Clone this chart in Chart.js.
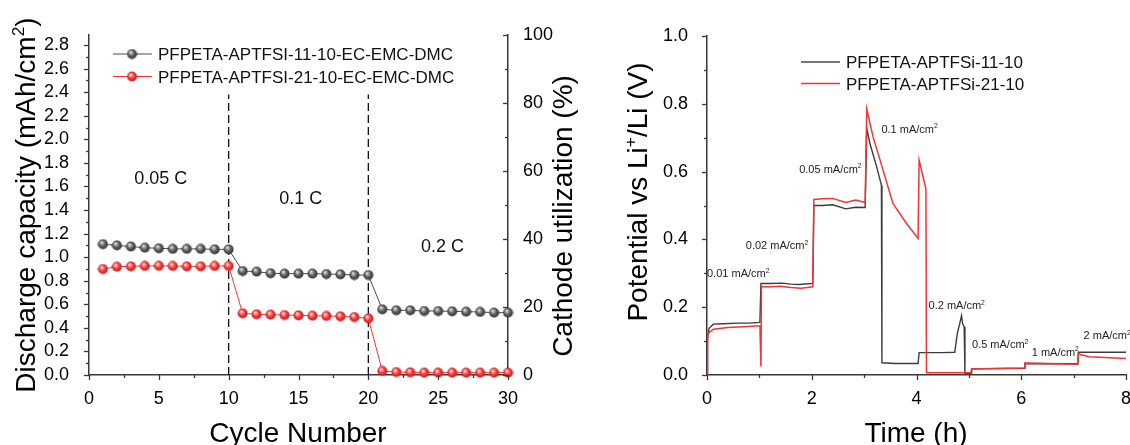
<!DOCTYPE html>
<html>
<head>
<meta charset="utf-8">
<title>Discharge capacity and potential</title>
<script src="https://cdn.jsdelivr.net/npm/chart.js@4.4.1/dist/chart.umd.min.js"></script>
<style>
  body { margin: 0; background: #fff; width: 1130px; height: 445px; position: relative; overflow: hidden; }
  canvas { position: absolute; top: 0; }
  #capChart { left: 0; }
  #potChart { left: 600px; }
</style>
</head>
<body>
<canvas id="capChart" width="600" height="445"></canvas>
<canvas id="potChart" width="530" height="445"></canvas>
<script>
// Left panel data (cycle test)
const cycles = [1, 2, 3, 4, 5, 6, 7, 8, 9, 10, 11, 12, 13, 14, 15, 16, 17, 18, 19, 20, 21, 22, 23, 24, 25, 26, 27, 28, 29, 30];
const cap11 = [1.11, 1.10, 1.09, 1.08, 1.075, 1.07, 1.07, 1.07, 1.066, 1.066,
  0.882, 0.877, 0.863, 0.86, 0.86, 0.86, 0.857, 0.854, 0.848, 0.848,
  0.557, 0.549, 0.549, 0.543, 0.543, 0.54, 0.537, 0.535, 0.529, 0.529];
const cap21 = [0.899, 0.919, 0.922, 0.925, 0.927, 0.925, 0.922, 0.922, 0.925, 0.925,
  0.523, 0.515, 0.512, 0.509, 0.506, 0.503, 0.501, 0.498, 0.492, 0.481,
  0.034, 0.025, 0.023, 0.02, 0.02, 0.02, 0.02, 0.02, 0.02, 0.02];
const capNames = ["PFPETA-APTFSI-11-10-EC-EMC-DMC", "PFPETA-APTFSI-21-10-EC-EMC-DMC"];
const rateSwitches = [10, 20];
const rateLabels = ["0.05 C", "0.1 C", "0.2 C"];

// Right panel data (potential vs time)
const time11 = [0, 0.01, 0.04, 0.12, 0.3, 0.6, 0.8, 1.01,
  1.03, 1.2, 1.44, 1.6, 1.76, 2.02,
  2.04, 2.2, 2.4, 2.65, 2.84, 3.02,
  3.05, 3.11, 3.24, 3.33, 3.34, 3.6, 4.03,
  4.05, 4.5, 4.73, 4.78, 4.81, 4.86, 4.88, 4.91, 4.925,
  5.05, 5.06, 6.06, 6.07, 7.08, 7.09, 8.0];
const pot11 = [0, 0.11, 0.138, 0.15, 0.151, 0.153, 0.153, 0.155,
  0.27, 0.27, 0.271, 0.268, 0.267, 0.27,
  0.5, 0.5, 0.502, 0.49, 0.495, 0.494,
  0.728, 0.683, 0.614, 0.56, 0.036, 0.034, 0.034,
  0.066, 0.066, 0.067, 0.123, 0.142, 0.175, 0.152, 0.142, 0.005,
  0.005, 0.018, 0.02, 0.034, 0.033, 0.067, 0.067];
const time21 = [0, 0.01, 0.02, 0.12, 0.4, 0.7, 1.01,
  1.03, 1.04, 1.2, 1.4, 1.6, 1.8, 2.02,
  2.04, 2.2, 2.4, 2.65, 2.84, 3.02,
  3.05, 3.17, 3.36, 3.55, 3.81, 4.03,
  4.05, 4.18, 4.19, 5.04, 5.05, 5.5, 6.06,
  6.07, 6.6, 7.08, 7.09, 7.3, 8.0];
const pot21 = [0, 0.09, 0.123, 0.135, 0.14, 0.142, 0.145,
  0.025, 0.26, 0.26, 0.262, 0.258, 0.256, 0.26,
  0.518, 0.52, 0.521, 0.509, 0.516, 0.509,
  0.785, 0.703, 0.605, 0.506, 0.447, 0.403,
  0.634, 0.549, 0.007, 0.007, 0.018, 0.019, 0.021,
  0.035, 0.033, 0.032, 0.062, 0.054, 0.049];
const potNames = ["PFPETA-APTFSi-11-10", "PFPETA-APTFSi-21-10"];
const currentLabels = ["0.01", "0.02", "0.05", "0.1", "0.2", "0.5", "1", "2"];

// Where the in-plot notes sit (data units, text centre height)
const rateNoteAt = [[3.24, 1.68], [13.62, 1.51], [23.77, 1.1]];
const currentNoteAt = [[0.0, 0.301], [0.74, 0.383], [1.76, 0.608], [3.33, 0.726],
  [4.23, 0.206], [5.06, 0.091], [6.2, 0.069], [7.19, 0.118]];

const FONT = '"Liberation Sans", Arial, sans-serif';
const axisColor = "#383838";
const grayLine = "#4a4a4a";
const redLine = "#f23434";

Chart.defaults.font.family = FONT;
Chart.defaults.color = "#000";

function toPoints(xs, ys) {
  return xs.map((x, i) => ({ x: x, y: ys[i] }));
}

// Shaded ball used as marker
function makeBall(light, mid, dark) {
  const c = document.createElement("canvas");
  c.width = 11;
  c.height = 11;
  const g = c.getContext("2d");
  const grad = g.createRadialGradient(4, 3.6, 0.4, 5.5, 5.5, 5.5);
  grad.addColorStop(0, light);
  grad.addColorStop(0.5, mid);
  grad.addColorStop(1, dark);
  g.fillStyle = grad;
  g.beginPath();
  g.arc(5.5, 5.5, 5, 0, Math.PI * 2);
  g.fill();
  return c;
}
const grayBall = makeBall("#e0e0e0", "#5e5e5e", "#2e2e2e");
const redBall = makeBall("#ffd8d8", "#f03c3c", "#c41616");

// Text with superscript parts: parts = [[text, isSup], ...]
function drawRich(ctx, parts, x, y, size, align) {
  const widths = parts.map(([t, sup]) => {
    ctx.font = `${sup ? size * 0.62 : size}px ${FONT}`;
    return ctx.measureText(t).width;
  });
  const total = widths.reduce((a, b) => a + b, 0);
  let cx = align === "center" ? x - total / 2 : x;
  ctx.textAlign = "left";
  ctx.textBaseline = "alphabetic";
  parts.forEach(([t, sup], i) => {
    ctx.font = `${sup ? size * 0.62 : size}px ${FONT}`;
    ctx.fillText(t, cx, sup ? y - size * 0.4 : y);
    cx += widths[i];
  });
}

function drawVertical(ctx, parts, x, y, size) {
  ctx.save();
  ctx.translate(x, y);
  ctx.rotate(-Math.PI / 2);
  drawRich(ctx, parts, 0, 0, size, "center");
  ctx.restore();
}

// Major ticks plus one minor tick between each pair
function drawAxisTicks(chart, id, side) {
  const s = chart.scales[id];
  const a = chart.chartArea;
  const ctx = chart.ctx;
  const vals = s.ticks.map((t) => t.value);
  ctx.save();
  ctx.strokeStyle = axisColor;
  ctx.lineWidth = 1.3;
  const tick = (v, len) => {
    const p = Math.round(s.getPixelForValue(v)) + 0.5;
    ctx.beginPath();
    if (side === "bottom") {
      ctx.moveTo(p, a.bottom);
      ctx.lineTo(p, a.bottom + len);
    } else if (side === "left") {
      ctx.moveTo(a.left, p);
      ctx.lineTo(a.left - len, p);
    } else {
      ctx.moveTo(a.right, p);
      ctx.lineTo(a.right - len, p);
    }
    ctx.stroke();
  };
  vals.forEach((v) => tick(v, 5));
  for (let i = 0; i + 1 < vals.length; i++) tick((vals[i] + vals[i + 1]) / 2, 3);
  ctx.restore();
}

function axisLine(color) {
  return { display: true, color: color, width: 1.5 };
}

// Left chart: discharge capacity
const capPlugin = {
  id: "capExtras",
  afterDraw(chart) {
    const ctx = chart.ctx;
    const xs = chart.scales.x;
    const ys = chart.scales.y;
    drawAxisTicks(chart, "x", "bottom");
    drawAxisTicks(chart, "y", "left");
    drawAxisTicks(chart, "y1", "right");

    ctx.save();
    ctx.fillStyle = "#111";
    rateLabels.forEach((label, i) => {
      const [vx, vy] = rateNoteAt[i];
      drawRich(ctx, [[label, false]], xs.getPixelForValue(vx), ys.getPixelForValue(vy) + 6.5, 18, "left");
    });

    // legend
    const rows = [[grayLine, grayBall], [redLine, redBall]];
    rows.forEach(([color, ball], i) => {
      const y = 54 + i * 22.5;
      ctx.strokeStyle = color;
      ctx.lineWidth = 1;
      ctx.beginPath();
      ctx.moveTo(113, y);
      ctx.lineTo(152, y);
      ctx.stroke();
      ctx.drawImage(ball, 132 - 5.5, y - 5.5);
      ctx.fillStyle = "#111";
      drawRich(ctx, [[capNames[i], false]], 158, y + 6, 17, "left");
    });

    // axis titles
    ctx.fillStyle = "#000";
    drawVertical(ctx, [["Discharge capacity (mAh/cm", false], ["2", true], [")", false]], 35, 205, 28);
    drawVertical(ctx, [["Cathode utilization (%)", false]], 572, 216, 28);
    drawRich(ctx, [["Cycle Number", false]], 298, 442, 28, "center");
    ctx.restore();
  },
};

const switchLines = rateSwitches.map((c) => ({
  data: [{ x: c, y: 0 }, { x: c, y: 2.38 }],
  borderColor: "#111",
  borderWidth: 1.3,
  borderDash: [8, 4],
  pointRadius: 0,
  order: 3,
}));

new Chart(document.getElementById("capChart"), {
  type: "line",
  data: {
    datasets: [
      {
        label: capNames[0],
        data: toPoints(cycles, cap11),
        borderColor: grayLine,
        borderWidth: 1,
        pointStyle: grayBall,
        pointRadius: 5,
        clip: false,
        order: 1,
      },
      {
        label: capNames[1],
        data: toPoints(cycles, cap21),
        borderColor: redLine,
        borderWidth: 1,
        pointStyle: redBall,
        pointRadius: 5,
        clip: false,
        order: 0,
      },
      ...switchLines,
    ],
  },
  options: {
    responsive: false,
    animation: false,
    layout: { padding: { top: 35, left: 0, right: 0, bottom: 0 }, autoPadding: false },
    plugins: { legend: { display: false }, tooltip: { enabled: false } },
    scales: {
      x: {
        type: "linear",
        min: 0,
        max: 30,
        ticks: { stepSize: 5, padding: 5, autoSkip: false, maxRotation: 0, font: { size: 18 } },
        grid: { display: false },
        border: axisLine(axisColor),
        afterFit(s) { s.height = 70; s.paddingLeft = 0; s.paddingRight = 0; },
      },
      y: {
        min: 0,
        max: 2.885,
        ticks: {
          stepSize: 0.2,
          includeBounds: false,
          padding: 12,
          autoSkip: false,
          font: { size: 18 },
          callback: (v) => v.toFixed(1),
        },
        grid: { display: false },
        border: axisLine(axisColor),
        afterFit(s) { s.width = 89; },
      },
      y1: {
        position: "right",
        min: 0,
        max: 100,
        ticks: { stepSize: 20, padding: 7, autoSkip: false, font: { size: 18 } },
        grid: { display: false },
        border: axisLine(axisColor),
        afterFit(s) { s.width = 92; },
      },
    },
  },
  plugins: [capPlugin],
});

// Right chart: potential vs time
const potPlugin = {
  id: "potExtras",
  afterDraw(chart) {
    const ctx = chart.ctx;
    const xs = chart.scales.x;
    const ys = chart.scales.y;
    drawAxisTicks(chart, "x", "bottom");
    drawAxisTicks(chart, "y", "left");

    ctx.save();
    ctx.fillStyle = "#222";
    currentLabels.forEach((label, i) => {
      const [vx, vy] = currentNoteAt[i];
      drawRich(ctx, [[label + " mA/cm", false], ["2", true]],
        xs.getPixelForValue(vx), ys.getPixelForValue(vy) + 4, 11, "left");
    });

    // legend
    [grayLine, redLine].forEach((color, i) => {
      const y = 62 + i * 21.5;
      ctx.strokeStyle = color;
      ctx.lineWidth = 1.5;
      ctx.beginPath();
      ctx.moveTo(201, y);
      ctx.lineTo(240, y);
      ctx.stroke();
      ctx.fillStyle = "#111";
      drawRich(ctx, [[potNames[i], false]], 246, y + 6, 17, "left");
    });

    ctx.fillStyle = "#000";
    drawVertical(ctx, [["Potential vs Li", false], ["+", true], ["/Li (V)", false]], 47, 192, 28);
    drawRich(ctx, [["Time (h)", false]], 316, 442, 28, "center");
    ctx.restore();
  },
};

new Chart(document.getElementById("potChart"), {
  type: "line",
  data: {
    datasets: [
      {
        label: potNames[0],
        data: toPoints(time11, pot11),
        borderColor: "#3c3c3c",
        borderWidth: 1.4,
        pointRadius: 0,
        order: 1,
      },
      {
        label: potNames[1],
        data: toPoints(time21, pot21),
        borderColor: redLine,
        borderWidth: 1.5,
        pointRadius: 0,
        order: 0,
      },
    ],
  },
  options: {
    responsive: false,
    animation: false,
    layout: { padding: { top: 36, left: 0, right: 4, bottom: 0 }, autoPadding: false },
    plugins: { legend: { display: false }, tooltip: { enabled: false } },
    scales: {
      x: {
        type: "linear",
        min: 0,
        max: 8,
        ticks: { stepSize: 2, padding: 5, autoSkip: false, maxRotation: 0, font: { size: 18 } },
        grid: { display: false },
        border: axisLine(axisColor),
        afterFit(s) { s.height = 70; s.paddingLeft = 0; s.paddingRight = 0; },
      },
      y: {
        min: 0,
        max: 1,
        ticks: {
          stepSize: 0.2,
          padding: 11,
          autoSkip: false,
          font: { size: 18 },
          callback: (v) => v.toFixed(1),
        },
        grid: { display: false },
        border: axisLine(axisColor),
        afterFit(s) { s.width = 107; },
      },
    },
  },
  plugins: [potPlugin],
});
</script>
</body>
</html>
